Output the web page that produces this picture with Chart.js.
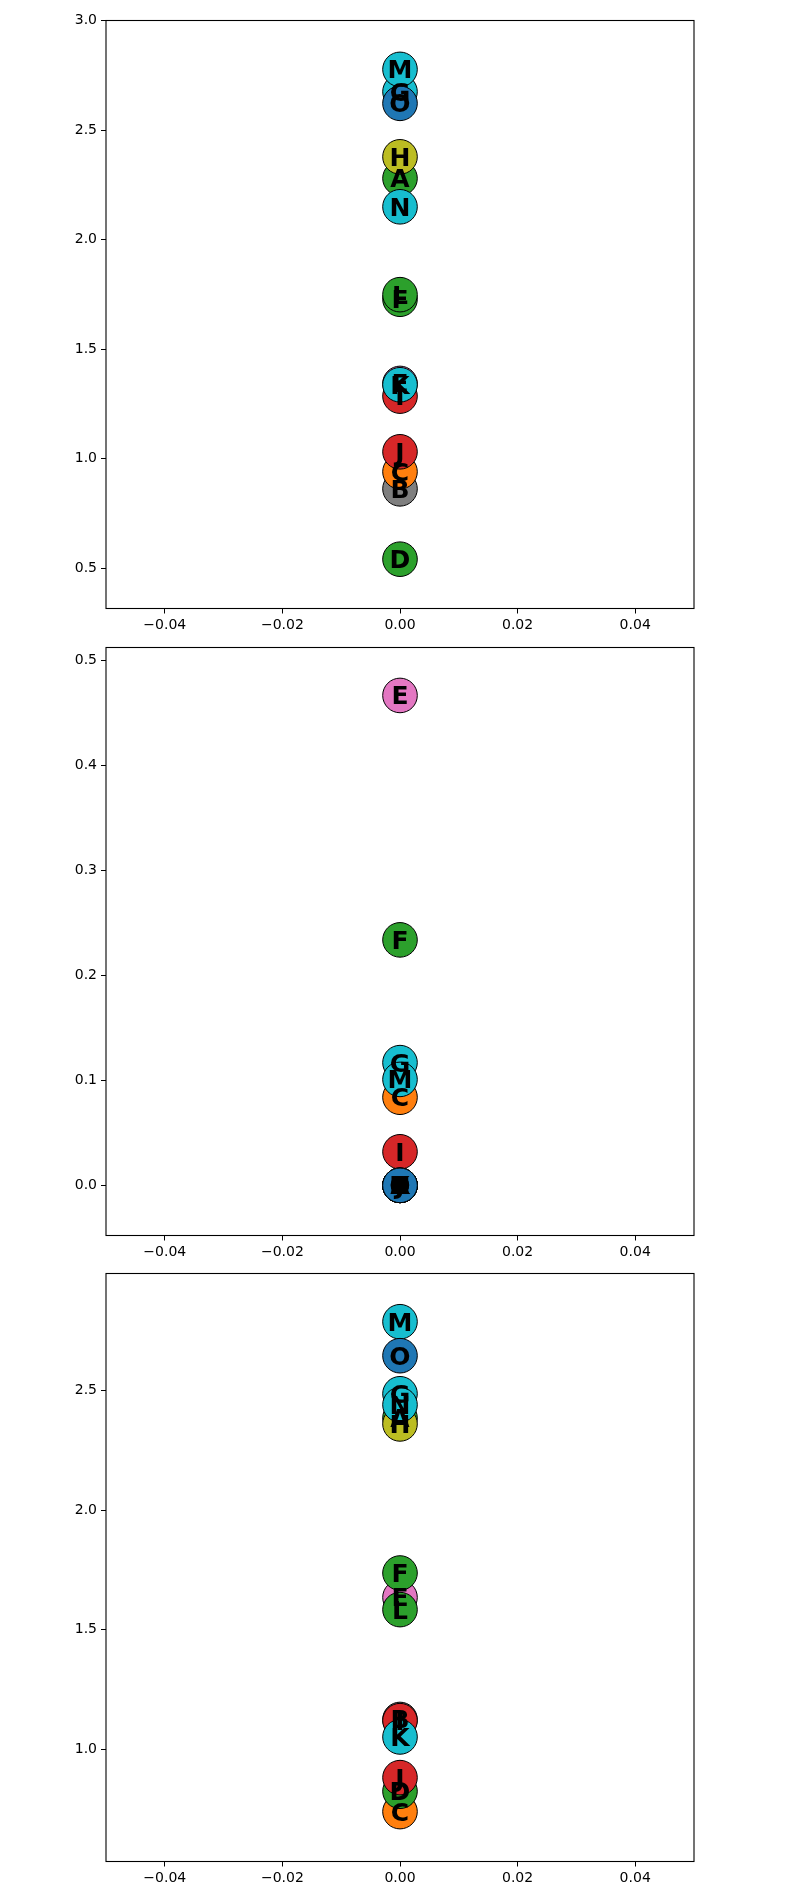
<!DOCTYPE html>
<html>
<head>
<meta charset="utf-8">
<script src="https://cdn.jsdelivr.net/npm/chart.js@4/dist/chart.umd.min.js"></script>
<style>
  body { margin: 0; background: #fff; }
  #wrap { position: relative; width: 800px; height: 1900px; }
  canvas { position: absolute; left: 0; }
</style>
</head>
<body>
<div id="wrap">
  <canvas id="c1" width="800" height="640" style="top:0px"></canvas>
  <canvas id="c2" width="800" height="640" style="top:627px"></canvas>
  <canvas id="c3" width="800" height="640" style="top:1253px"></canvas>
</div>
<script>
// point labels and their colours (tab10)
const letters = ["A", "B", "C", "D", "E", "F", "G", "H", "I", "J", "K", "L", "M", "N", "O"];
const colors = ["#2ca02c", "#7f7f7f", "#ff7f0e", "#2ca02c", "#e377c2", "#2ca02c", "#17becf", "#bcbd22",
                "#d62728", "#d62728", "#17becf", "#2ca02c", "#17becf", "#17becf", "#1f77b4"];

// y values per panel (x is 0 for every point)
const panel1 = [2.280, 0.863, 0.941, 0.542, 1.344, 1.728, 2.675, 2.378, 1.286, 1.032, 1.338, 1.749, 2.777, 2.150, 2.622];
const panel2 = [0, 0, 0.084, 0, 0.467, 0.234, 0.117, 0, 0.032, 0, 0, 0, 0.101, 0, 0];
const panel3 = [2.385, 1.125, 0.740, 0.825, 1.635, 1.737, 2.486, 2.360, 1.120, 0.882, 1.052, 1.584, 2.787, 2.440, 2.645];

// tick labels
const xTicks = [-0.04, -0.02, 0, 0.02, 0.04];
const yTicks1 = [0.5, 1.0, 1.5, 2.0, 2.5, 3.0];
const yTicks2 = [0, 0.1, 0.2, 0.3, 0.4, 0.5];
const yTicks3 = [1.0, 1.5, 2.0, 2.5];

const boxAndLabels = {
  id: "boxAndLabels",
  afterDatasetsDraw(chart) {
    const ctx = chart.ctx;
    const a = chart.chartArea;
    ctx.save();
    ctx.strokeStyle = "#000";
    ctx.lineWidth = 1.1;
    ctx.strokeRect(a.left, a.top, a.right - a.left, a.bottom - a.top);
    ctx.fillStyle = "#000";
    ctx.font = 'bold 25px "DejaVu Sans"';
    ctx.textAlign = "center";
    ctx.textBaseline = "alphabetic";
    chart.getDatasetMeta(0).data.forEach((pt, i) => {
      ctx.fillText(letters[i], pt.x, pt.y + 9);
    });
    ctx.restore();
  }
};

function makeChart(id, values, yMin, yMax, yTicks) {
  const tickFont = { family: "DejaVu Sans", size: 14 };
  return new Chart(document.getElementById(id), {
    type: "scatter",
    data: {
      datasets: [{
        data: values.map(v => ({ x: 0, y: v })),
        pointRadius: 17.3,
        pointHoverRadius: 17.3,
        pointBackgroundColor: colors,
        pointBorderColor: "#000",
        pointBorderWidth: 1
      }]
    },
    options: {
      responsive: false,
      animation: false,
      events: [],
      layout: { padding: { top: 20.5, right: 106, bottom: 0, left: 0 } },
      plugins: { legend: { display: false }, tooltip: { enabled: false } },
      scales: {
        x: {
          type: "linear",
          min: -0.05,
          max: 0.05,
          afterBuildTicks: s => { s.ticks = xTicks.map(v => ({ value: v })); },
          afterFit: s => { s.height = 31.5; },
          grid: { drawOnChartArea: false, drawTicks: true, tickLength: 5, tickColor: "#000", tickWidth: 1 },
          border: { display: false },
          ticks: {
            autoSkip: false, maxRotation: 0, padding: 3, color: "#000", font: tickFont,
            callback: v => v.toFixed(2).replace("-", "\u2212")
          }
        },
        y: {
          type: "linear",
          min: yMin,
          max: yMax,
          afterBuildTicks: s => { s.ticks = yTicks.map(v => ({ value: v })); },
          afterFit: s => { s.width = 106; },
          grid: { drawOnChartArea: false, drawTicks: true, tickLength: 5, tickColor: "#000", tickWidth: 1 },
          border: { display: false },
          ticks: {
            autoSkip: false, padding: 4, color: "#000", font: tickFont,
            callback: v => v.toFixed(1).replace("-", "\u2212")
          }
        }
      }
    },
    plugins: [boxAndLabels]
  });
}

makeChart("c1", panel1, 0.317, 3.0, yTicks1);
makeChart("c2", panel2, -0.0478, 0.5127, yTicks2);
makeChart("c3", panel3, 0.5315, 2.9885, yTicks3);
</script>
</body>
</html>
